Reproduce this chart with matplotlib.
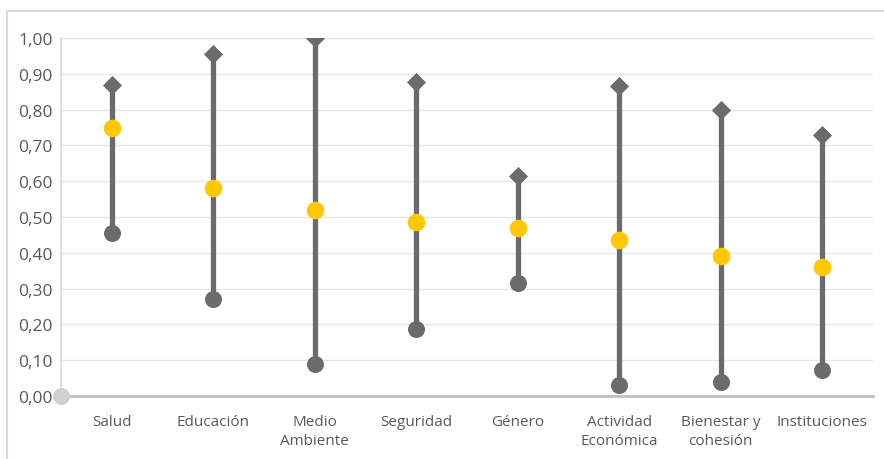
import matplotlib.pyplot as plt
from matplotlib.patches import Rectangle
from matplotlib.ticker import FuncFormatter

plt.rcParams['font.family'] = ['Open Sans', 'DejaVu Sans']

categories = ["Salud", "Educación", "Medio\nAmbiente", "Seguridad", "Género",
              "Actividad\nEconómica", "Bienestar y\ncohesión", "Instituciones"]
max_vals = [0.87, 0.955, 1.00, 0.877, 0.615, 0.866, 0.80, 0.73]
mean_vals = [0.75, 0.58, 0.52, 0.485, 0.47, 0.435, 0.39, 0.36]
min_vals = [0.455, 0.27, 0.09, 0.187, 0.315, 0.03, 0.04, 0.073]

grey = '#6b6b6b'
yellow = '#ffc800'

fig = plt.figure(figsize=(8.84, 4.6), dpi=100)
fig.patches.append(Rectangle((7 / 884, -0.1), 1.2, 448 / 460 + 0.1,
                             transform=fig.transFigure, fill=False,
                             edgecolor='#d9d9d9', linewidth=1.5))
ax = fig.add_axes([61 / 884, 63 / 460, 812 / 884, 358 / 460])

x = list(range(len(categories)))
ax.vlines(x, min_vals, max_vals, color=grey, linewidth=3.8, zorder=3)
ax.scatter(x, max_vals, marker='D', s=95, color=grey, zorder=4, linewidths=0)
ax.scatter(x, min_vals, marker='o', s=150, color=grey, zorder=4, linewidths=0)
ax.scatter(x, mean_vals, marker='o', s=160, color=yellow, zorder=5, linewidths=0)
# leftover point sitting on the origin
ax.scatter([-0.5], [0], marker='o', s=150, color='#d0d0d0', zorder=6,
           linewidths=0, clip_on=False)

ax.set_xlim(-0.5, len(categories) - 0.5)
ax.set_ylim(0, 1)
ax.set_yticks([i / 10 for i in range(11)])
ax.yaxis.set_major_formatter(FuncFormatter(lambda v, p: f"{v:.2f}".replace('.', ',')))
ax.set_xticks(x)
ax.set_xticklabels(categories, fontsize=11, color='#595959', linespacing=1.33)
ax.tick_params(axis='y', length=0, labelsize=12.5, labelcolor='#595959', pad=6)
ax.tick_params(axis='x', length=0, pad=13)
ax.grid(axis='y', color='#e6e6e6', linewidth=1)
ax.set_axisbelow(True)
for s in ['top', 'right']:
    ax.spines[s].set_visible(False)
ax.spines['left'].set_color('#d9d9d9')
ax.spines['left'].set_linewidth(1.2)
ax.spines['bottom'].set_color('#bfbfbf')
ax.spines['bottom'].set_linewidth(2)

fig.savefig('out.png', dpi=100)
